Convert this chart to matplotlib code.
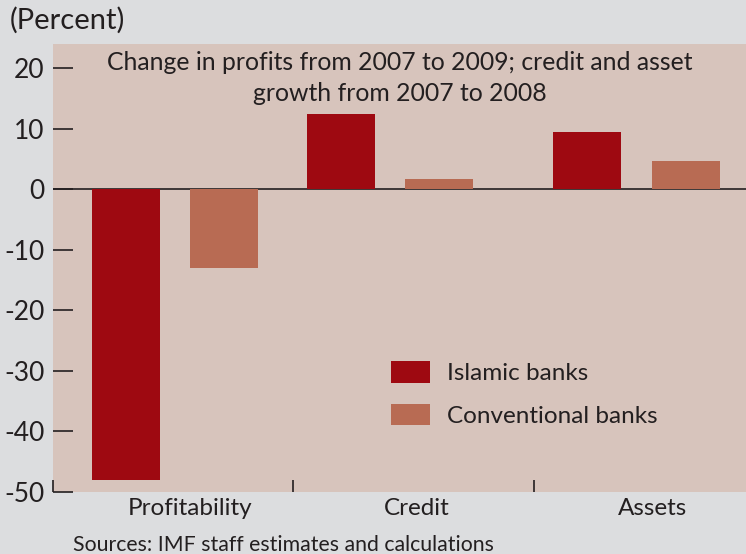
import matplotlib
matplotlib.use("Agg")
import matplotlib.pyplot as plt
from matplotlib.patches import Patch

plt.rcParams['font.family'] = ['Lato', 'DejaVu Sans']
plt.rcParams['axes.unicode_minus'] = False

categories = ["Profitability", "Credit", "Assets"]
islamic = [-48.0, 12.5, 9.4]
conventional = [-13.0, 1.7, 4.6]
series_names = ["Islamic banks", "Conventional banks"]
y_ticks = [-50, -40, -30, -20, -10, 0, 10, 20]
title_text = "Change in profits from 2007 to 2009; credit and asset\ngrowth from 2007 to 2008"
unit_text = "(Percent)"
source_text = "Sources: IMF staff estimates and calculations"

# layout
group_x = [0.508, 1.404, 2.431]
label_x = [0.571, 1.517, 2.50]
boundary_x = [0.0, 1.0, 2.004]
offset = 0.205
width = 0.283

c_isl = "#9e0911"
c_conv = "#b86b53"
c_text = "#231f20"
fig_bg = "#dcdddf"
ax_bg = "#d7c4bc"

fig = plt.figure(figsize=(7.46, 5.54), dpi=100, facecolor=fig_bg)
ax = fig.add_axes([53/746, 62/554, 693/746, 448/554])
ax.set_facecolor(ax_bg)

ax.axhline(0, color=c_text, lw=1.2, zorder=1)
ax.bar([g - offset for g in group_x], islamic, width=width, color=c_isl, zorder=2)
ax.bar([g + offset for g in group_x], conventional, width=width, color=c_conv, zorder=2)

ax.set_xlim(0, 693/240)
ax.set_ylim(-50, 24)

for s in ax.spines.values():
    s.set_visible(False)

ax.set_yticks(y_ticks)
ax.set_yticklabels([str(v) for v in y_ticks])
ax.tick_params(axis='y', direction='in', length=14.4, width=1.2, color=c_text,
               labelsize=19, labelcolor=c_text, pad=6)

ax.set_xticks(boundary_x)
ax.set_xticklabels([])
ax.tick_params(axis='x', which='major', direction='in', length=8.5, width=1.2, color=c_text)
ax.set_xticks(label_x, minor=True)
ax.set_xticklabels(categories, minor=True)
ax.tick_params(axis='x', which='minor', length=0, labelsize=17.5, labelcolor=c_text, pad=4)

ax.text(0.5, 0.985, title_text, transform=ax.transAxes, ha='center', va='top',
        fontsize=17.8, color=c_text, linespacing=1.45)

fig.text(10/746, 1 - 20/554, unit_text, ha='left', va='center', fontsize=21, color=c_text)
fig.text(73/746, 1 - 551/554, source_text, ha='left', va='baseline', fontsize=15.3, color=c_text)

handles = [Patch(facecolor=c_isl), Patch(facecolor=c_conv)]
ax.legend(handles, series_names, loc='upper left', bbox_to_anchor=((369-53)/693, (492-339)/448),
          frameon=False, fontsize=17.5, labelcolor=c_text, handlelength=1.6, handleheight=1.0,
          handletextpad=0.7, labelspacing=0.8)

fig.savefig("out.png", dpi=100, facecolor=fig_bg)
